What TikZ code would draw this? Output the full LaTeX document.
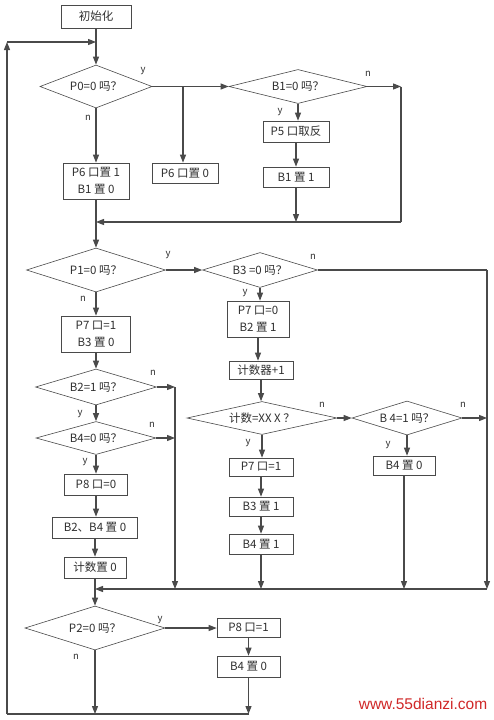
\documentclass[tikz,border=0pt]{standalone}
\usepackage{fontspec}
\setmainfont{Noto Sans CJK SC}
\newfontfamily\wmfont{Liberation Sans}
\usetikzlibrary{shapes.geometric,arrows.meta}
\definecolor{lncol}{HTML}{4A4A4A}
\definecolor{txcol}{HTML}{303030}
\definecolor{wmcol}{HTML}{D02828}
\begin{document}
\begin{tikzpicture}[x=1pt,y=-1pt,
  box/.style={draw=lncol,line width=0.6pt,rectangle,inner sep=0pt,text=txcol,font=\fontsize{11.5}{17}\selectfont,align=center},
  dia/.style={draw=lncol,line width=0.6pt,diamond,aspect=4,inner sep=0pt,text=txcol,font=\fontsize{11.5}{17}\selectfont},
  arr/.style={draw=lncol,line width=1.1pt,-{Triangle[length=8pt,width=6pt]}},
  wire/.style={draw=lncol,line width=1.1pt},
  lab/.style={text=txcol,font=\fontsize{9.5}{9.5}\selectfont,inner sep=0pt}
]
\useasboundingbox (0,0) rectangle (493,720);
\fill[white] (0,0) rectangle (493,720);

% ---- top part
\node[box,minimum width=70pt,minimum height=23pt] (init) at (96,16.5) {初始化};
\coordinate (c0) at (96,42);
\coordinate (lt) at (7,42);
\coordinate (lb) at (7,714);
\node[dia,minimum width=112pt,minimum height=43pt] (d0) at (96,86.5) {P0=0 吗？};
\node[dia,minimum width=138pt,minimum height=34pt] (d1) at (298,86.5) {B1=0 吗？};
\node[box,minimum width=66pt,minimum height=36pt] (b6a) at (96,181) {P6 口置 1\\B1 置 0};
\node[box,minimum width=66pt,minimum height=20pt] (b6b) at (185,173) {P6 口置 0};
\node[box,minimum width=66pt,minimum height=21pt] (b5) at (296,131.5) {P5 口取反};
\node[box,minimum width=66pt,minimum height=20pt] (bb1) at (296,177) {B1 置 1};
\coordinate (br0) at (183,86.5);
\coordinate (r1) at (401,86.5);
\coordinate (m1) at (96,222);
\coordinate (m1r) at (401,222);

\draw[arr] (init.south) -- (init.south |- d0.north);
\draw[arr] (d0.east) -- (d1.west);
\draw[arr] (br0) -- (br0 |- b6b.north);
\draw[arr] (d0.south) -- (d0.south |- b6a.north);
\draw[arr] (d1.south) -- (d1.south |- b5.north);
\draw[arr] (b5.south) -- (bb1.north);
\draw[arr] (bb1.south) -- (bb1.south |- m1);
\draw[arr] (d1.east) -- (r1);
\draw[wire] (r1) -- (m1r);
\draw[arr] (m1r) -- (m1);
\draw[wire] (b6a.south) -- (m1);

\node[lab] (ly0) at (143,71) {y};
\node[lab] (ln0) at (88,118) {n};
\node[lab] (ln1) at (368,74) {n};
\node[lab] (ly1) at (280,112) {y};

% ---- middle part
\node[dia,minimum width=139pt,minimum height=44pt] (d2) at (96,270) {P1=0 吗？};
\node[dia,minimum width=115pt,minimum height=35pt] (d3) at (260,270) {B3 =0 吗？};
\node[box,minimum width=69pt,minimum height=36pt] (b7a) at (96,334) {P7 口=1\\B3 置 0};
\node[dia,minimum width=121pt,minimum height=36pt] (d4) at (96,387) {B2=1 吗？};
\node[dia,minimum width=120pt,minimum height=33pt] (d5) at (96,438) {B4=0 吗？};
\node[box,minimum width=63pt,minimum height=21pt] (b8) at (96,484.5) {P8 口=0};
\node[box,minimum width=85pt,minimum height=21pt] (b24) at (95,527.5) {B2、B4 置 0};
\node[box,minimum width=62pt,minimum height=21pt] (bc0) at (95,567.5) {计数置 0};

\node[box,minimum width=62pt,minimum height=36pt] (b7b) at (258,319) {P7 口=0\\B2 置 1};
\node[box,minimum width=64pt,minimum height=18pt] (bcnt) at (261,370) {计数器+1};
\node[dia,minimum width=150pt,minimum height=33pt] (d7) at (262,418) {计数=XX X ？};
\node[dia,minimum width=110pt,minimum height=34pt] (d8) at (407,418) {B 4=1 吗？};
\node[box,minimum width=62pt,minimum height=19pt] (b40b) at (404,465.5) {B4 置 0};
\node[box,minimum width=64pt,minimum height=18pt] (b71) at (261,467) {P7 口=1};
\node[box,minimum width=64pt,minimum height=19pt] (b31) at (261,506.5) {B3 置 1};
\node[box,minimum width=64pt,minimum height=20pt] (b41) at (261,544) {B4 置 1};

\coordinate (m2) at (95,589);
\coordinate (m2r) at (487,589);
\coordinate (r3) at (487,270);
\coordinate (r8) at (487,418);
\coordinate (v4) at (175,387);
\coordinate (v5) at (175,438);
\coordinate (v4b) at (175,589);

\draw[arr] (m1) -- (m1 |- d2.north);
\draw[arr] (d2.east) -- (d3.west);
\draw[arr] (d2.south) -- (d2.south |- b7a.north);
\draw[arr] (b7a.south) -- (b7a.south |- d4.north);
\draw[arr] (d4.south) -- (d4.south |- d5.north);
\draw[arr] (d4.east) -- (v4);
\draw[arr] (d5.east) -- (v5);
\draw[arr] (v4) -- (v4b);
\draw[arr] (d5.south) -- (d5.south |- b8.north);
\draw[arr] (b8.south) -- (b8.south |- b24.north);
\draw[arr] (b24.south) -- (b24.south |- bc0.north);
\draw[wire] (bc0.south) -- (m2);

\draw[wire] (d3.east) -- (r3);
\draw[arr] (r3) -- (m2r);
\draw[arr] (d3.south) -- (d3.south |- b7b.north);
\draw[arr] (b7b.south) -- (b7b.south |- bcnt.north);
\draw[arr] (bcnt.south) -- (bcnt.south |- d7.north);
\draw[arr] (d7.east) -- (d8.west);
\draw[arr] (d8.east) -- (r8);
\draw[arr] (d8.south) -- (d8.south |- b40b.north);
\draw[arr] (b40b.south) -- (b40b.south |- m2);
\draw[arr] (d7.south) -- (d7.south |- b71.north);
\draw[arr] (b71.south) -- (b31.north);
\draw[arr] (b31.south) -- (b41.north);
\draw[arr] (b41.south) -- (b41.south |- m2);
\draw[arr] (m2r) -- (m2);

\node[lab] (ly2) at (168,255) {y};
\node[lab] (ln2) at (83,299) {n};
\node[lab] (ln3) at (313,257) {n};
\node[lab] (ly3) at (245,293) {y};
\node[lab] (ln4) at (153,373) {n};
\node[lab] (ly4) at (80,414) {y};
\node[lab] (ln5) at (152,425) {n};
\node[lab] (ly5) at (85,462) {y};
\node[lab] (ln7) at (322,405) {n};
\node[lab] (ly7) at (248,443) {y};
\node[lab] (ln8) at (463,405) {n};
\node[lab] (ly8) at (388,445) {y};

% ---- bottom part
\node[dia,minimum width=140pt,minimum height=44pt] (d6) at (95,628) {P2=0 吗？};
\node[box,minimum width=63pt,minimum height=19pt] (b8b) at (248.5,628) {P8 口=1};
\node[box,minimum width=63pt,minimum height=21pt] (b40) at (248.5,666.5) {B4 置 0};
\coordinate (e6) at (95,714);
\coordinate (e40) at (248.5,714);

\draw[arr] (m2) -- (m2 |- d6.north);
\draw[arr] (d6.east) -- (b8b.west);
\draw[arr] (b8b.south) -- (b40.north);
\draw[arr] (b40.south) -- (e40);
\draw[arr] (d6.south) -- (e6);
\draw[wire] (e40) -- (lb);
\draw[arr] (lb) -- (lt);
\draw[arr] (lt) -- (c0);

\node[lab] (ly6) at (160,620) {y};
\node[lab] (ln6) at (76,657) {n};

\node[text=wmcol,font=\wmfont\fontsize{15.5}{16}\selectfont,inner sep=0pt] (wm) at (423,704) {www.55dianzi.com};
\end{tikzpicture}
\end{document}
